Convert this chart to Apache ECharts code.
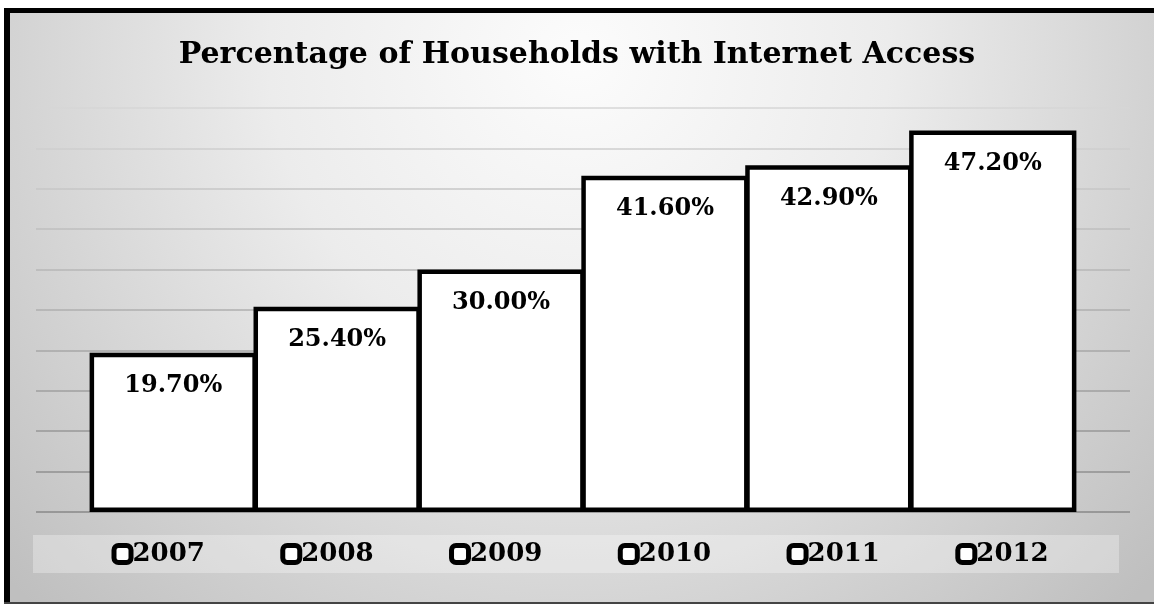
<!DOCTYPE html>
<html>
<head>
<meta charset="utf-8">
<script src="https://cdn.jsdelivr.net/npm/echarts@6/dist/echarts.min.js"></script>
<style>
html,body{margin:0;padding:0;background:#fff;}
#chart{width:1154px;height:605px;}
</style>
</head>
<body>
<div id="chart"></div>
<script>
const titleText = 'Percentage of Households with Internet Access';
const years = ['2007', '2008', '2009', '2010', '2011', '2012'];
const values = [19.7, 25.4, 30.0, 41.6, 42.9, 47.2];
const yMin = 0, yMax = 50, yStep = 5;

const serif = '"DejaVu Serif", "Liberation Serif", serif';
const chart = echarts.init(document.getElementById('chart'));

const series = years.map((y, i) => ({
  name: y,
  type: 'bar',
  data: [values[i]],
  barGap: '-2%',
  barCategoryGap: '9.8%',
  itemStyle: { color: '#ffffff', borderColor: '#000000', borderWidth: 4.5 },
  emphasis: { disabled: true },
  label: {
    show: true,
    position: 'insideTop',
    distance: 21,
    formatter: p => p.value.toFixed(2) + '%',
    fontFamily: serif,
    fontWeight: 'bold',
    fontSize: 24,
    color: '#000'
  }
}));

chart.setOption({
  animation: false,
  title: {
    text: titleText,
    left: 'center',
    top: 40,
    padding: [0, 0, 0, 10],
    textStyle: { fontFamily: serif, fontWeight: 'bold', fontSize: 30, color: '#000' }
  },
  graphic: [
    { type: 'rect', z: -20, shape: { x: 4, y: 8, width: 1150, height: 596 },
      style: { fill: { type: 'radial', x: 0.5, y: 0.08, r: 1.3,
        colorStops: [{ offset: 0, color: '#fcfcfc' }, { offset: 0.4, color: '#ececec' }, { offset: 1, color: '#bfbfbf' }] } } },
    { type: 'rect', z: -5, shape: { x: 33, y: 535, width: 1086, height: 38 },
      style: { fill: 'rgba(255,255,255,0.3)' } },
    { type: 'rect', z: 50, shape: { x: 4, y: 8, width: 1150, height: 5 }, style: { fill: '#000' } },
    { type: 'rect', z: 50, shape: { x: 4, y: 8, width: 6, height: 596 }, style: { fill: '#000' } },
    { type: 'rect', z: 50, shape: { x: 4, y: 602, width: 1150, height: 2 }, style: { fill: '#444' } }
  ],
  legend: {
    data: years,
    left: 110.5,
    top: 541,
    itemGap: 74.4,
    itemWidth: 0,
    itemHeight: 0,
    padding: 0,
    formatter: name => '{box|}{gap|}' + name,
    textStyle: {
      fontFamily: serif, fontWeight: 'bold', fontSize: 26, color: '#000', lineHeight: 26,
      rich: {
        box: { width: 12, height: 12, backgroundColor: '#fff', borderColor: '#000', borderWidth: 5, borderRadius: 2 },
        gap: { width: 4 }
      }
    }
  },
  grid: { left: 36, right: 24, top: 108, bottom: 93 },
  xAxis: {
    type: 'category',
    data: [''],
    axisLine: { show: false },
    axisTick: { show: false },
    axisLabel: { show: false }
  },
  yAxis: {
    type: 'value',
    min: yMin,
    max: yMax,
    interval: yStep,
    axisLabel: { show: false },
    axisLine: { show: false },
    axisTick: { show: false },
    splitLine: {
      show: true,
      lineStyle: {
        width: 1.5,
        color: { type: 'linear', global: true, x: 0, y: 108, x2: 0, y2: 512,
          colorStops: [{ offset: 0, color: '#d6d6d6' }, { offset: 1, color: '#888888' }] }
      }
    }
  },
  series: series
});
</script>
</body>
</html>
